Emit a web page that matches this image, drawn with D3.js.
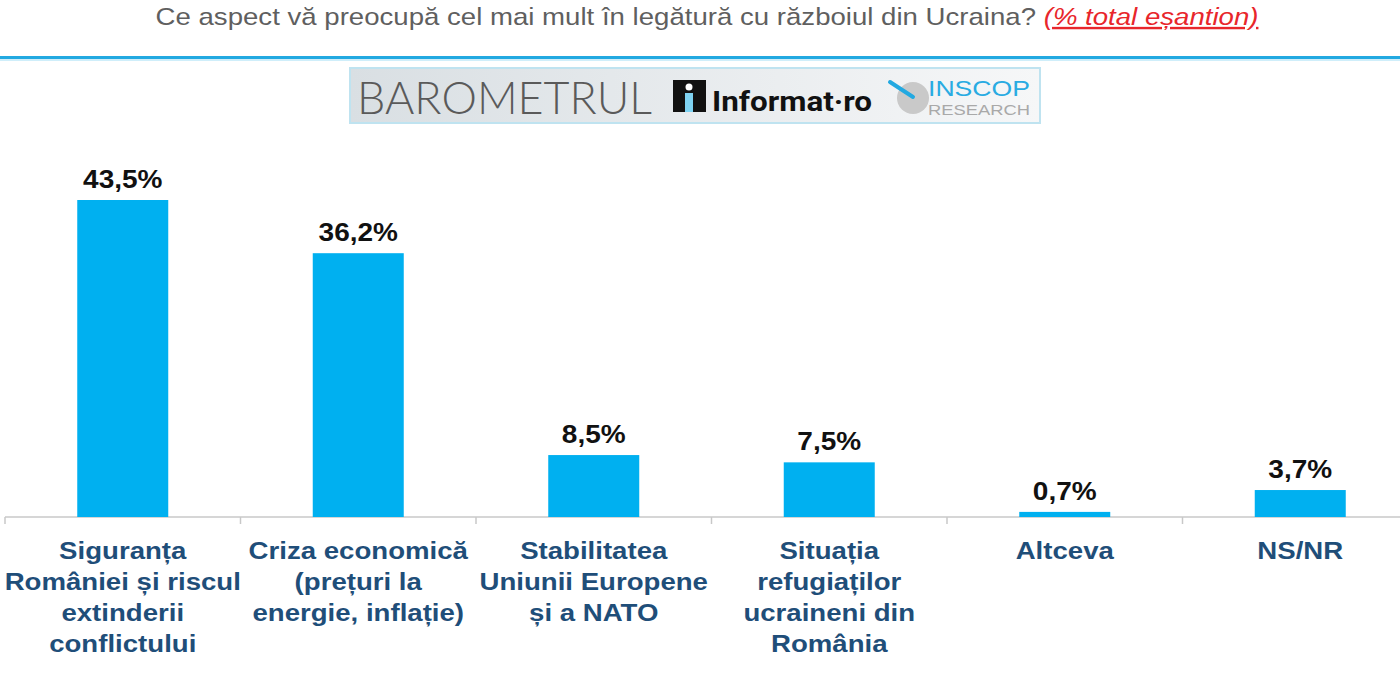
<!DOCTYPE html>
<html><head><meta charset="utf-8">
<script src="https://cdn.jsdelivr.net/npm/d3@7"></script>
<style>html,body{margin:0;padding:0;background:#fff;}svg{display:block;}</style>
</head><body>
<svg id="chart" width="1400" height="676"></svg>
<script>
const categories = [
  ["Siguranța", "României și riscul", "extinderii", "conflictului"],
  ["Criza economică", "(prețuri la", "energie, inflație)"],
  ["Stabilitatea", "Uniunii Europene", "și a NATO"],
  ["Situația", "refugiaților", "ucraineni din", "România"],
  ["Altceva"],
  ["NS/NR"]
];
const values = [43.5, 36.2, 8.5, 7.5, 0.7, 3.7];
const valueLabels = ["43,5%", "36,2%", "8,5%", "7,5%", "0,7%", "3,7%"];
const titleMain = "Ce aspect vă preocupă cel mai mult în legătură cu războiul din Ucraina?";
const titleNote = "(% total eșantion)";

const svg = d3.select("#chart");
const font = "'Liberation Sans', Arial, sans-serif";
const SX = 1.15; // horizontal stretch seen in the reference

// Title
const tg = svg.append("g").attr("transform", `translate(707,0) scale(${SX},1)`);
const t = tg.append("text").attr("x", 0).attr("y", 25).attr("text-anchor", "middle")
  .attr("font-family", font).attr("font-size", 24);
t.append("tspan").attr("fill", "#5f5f5f").text(titleMain + " ");
t.append("tspan").attr("fill", "#e8262b").attr("font-style", "italic")
  .attr("text-decoration", "underline").text(titleNote);

// blue separator
svg.append("rect").attr("x", 0).attr("y", 56).attr("width", 1400).attr("height", 3).attr("fill", "#22a9e1");
svg.append("rect").attr("x", 0).attr("y", 59).attr("width", 1400).attr("height", 2).attr("fill", "#cfeefa");

// Logo banner
const defs = svg.append("defs");
const g1 = defs.append("linearGradient").attr("id", "lg").attr("x1", "0").attr("x2", "1");
g1.append("stop").attr("offset", "0").attr("stop-color", "#d9dfe3");
g1.append("stop").attr("offset", "1").attr("stop-color", "#f6f7f8");
const logo = svg.append("g");
logo.append("rect").attr("x", 350).attr("y", 68).attr("width", 690).attr("height", 55)
  .attr("fill", "url(#lg)").attr("stroke", "#bfe3f0").attr("stroke-width", 2);
logo.append("text").attr("x", 357).attr("y", 114).attr("font-family", "Lato, 'Open Sans', sans-serif")
  .attr("font-weight", 300).attr("font-size", 45).attr("fill", "#5a5a5a")
  .attr("textLength", 295).attr("lengthAdjust", "spacingAndGlyphs").text("BAROMETRUL");
logo.append("rect").attr("x", 673).attr("y", 80).attr("width", 33).attr("height", 32).attr("fill", "#111");
logo.append("circle").attr("cx", 689).attr("cy", 87).attr("r", 3.5).attr("fill", "#fff");
logo.append("rect").attr("x", 685).attr("y", 93).attr("width", 8).attr("height", 19).attr("fill", "#7fd3f2");
logo.append("text").attr("x", 712).attr("y", 111).attr("font-family", "Roboto, sans-serif")
  .attr("font-weight", 700).attr("font-size", 27).attr("fill", "#111")
  .attr("textLength", 160).attr("lengthAdjust", "spacingAndGlyphs").text("Informat·ro");
logo.append("circle").attr("cx", 913).attr("cy", 98).attr("r", 16).attr("fill", "#c9c9c9");
logo.append("line").attr("x1", 890).attr("y1", 82).attr("x2", 913).attr("y2", 97)
  .attr("stroke", "#22a9e1").attr("stroke-width", 4).attr("stroke-linecap", "round");
logo.append("text").attr("x", 928).attr("y", 96).attr("font-family", font)
  .attr("font-size", 22).attr("fill", "#29abe2")
  .attr("textLength", 102).attr("lengthAdjust", "spacingAndGlyphs").text("INSCOP");
logo.append("text").attr("x", 928).attr("y", 115).attr("font-family", font)
  .attr("font-size", 15).attr("fill", "#a9a9a9")
  .attr("textLength", 102).attr("lengthAdjust", "spacingAndGlyphs").text("RESEARCH");

// Scales
const baseY = 517;
const x = d3.scaleBand().domain(d3.range(values.length)).range([5, 5 + 6 * 235.5]).padding(0);
const y = d3.scaleLinear().domain([0, 43.5]).range([baseY, 200]);
const bw = 91;

// Axis
const axis = d3.axisBottom(x).tickSize(7).tickFormat("");
const ag = svg.append("g").attr("transform", `translate(0,${baseY})`).call(axis);
ag.select(".domain").attr("stroke", "#c8c8c8").attr("stroke-width", 1.5).attr("d", `M5,0H1400`);
ag.selectAll(".tick").remove();
const tickPos = d3.range(values.length + 1).map(i => i < values.length ? x(i) : x(values.length - 1) + x.bandwidth());
ag.selectAll(".tk").data(tickPos).join("line").attr("class", "tk")
  .attr("x1", d => d).attr("x2", d => d).attr("y1", 0).attr("y2", 7)
  .attr("stroke", "#c8c8c8").attr("stroke-width", 1.5);

// Bars
svg.selectAll(".bar").data(values).join("rect").attr("class", "bar")
  .attr("x", (d, i) => x(i) + x.bandwidth() / 2 - bw / 2)
  .attr("y", d => y(d)).attr("width", bw).attr("height", d => baseY - y(d))
  .attr("fill", "#00b0f0");

// Value labels
svg.selectAll(".vl").data(values).join("g").attr("class", "vl")
  .attr("transform", (d, i) => `translate(${x(i) + x.bandwidth() / 2},${y(d) - 12}) scale(1.12,1)`)
  .append("text").attr("x", 0).attr("y", 0)
  .attr("text-anchor", "middle").attr("font-family", font).attr("font-weight", 700)
  .attr("font-size", 25).attr("fill", "#111").text((d, i) => valueLabels[i]);

// Category labels
const cl = svg.selectAll(".cl").data(categories).join("g").attr("class", "cl")
  .attr("transform", (d, i) => `translate(${x(i) + x.bandwidth() / 2},0) scale(${SX},1)`)
  .append("text").attr("text-anchor", "middle").attr("font-family", font).attr("font-weight", 700)
  .attr("font-size", 24).attr("fill", "#1f4e79");
cl.each(function(lines) {
  d3.select(this).selectAll("tspan").data(lines).join("tspan")
    .attr("x", 0).attr("y", (l, j) => 559 + j * 31).text(l => l);
});
</script>
</body></html>
